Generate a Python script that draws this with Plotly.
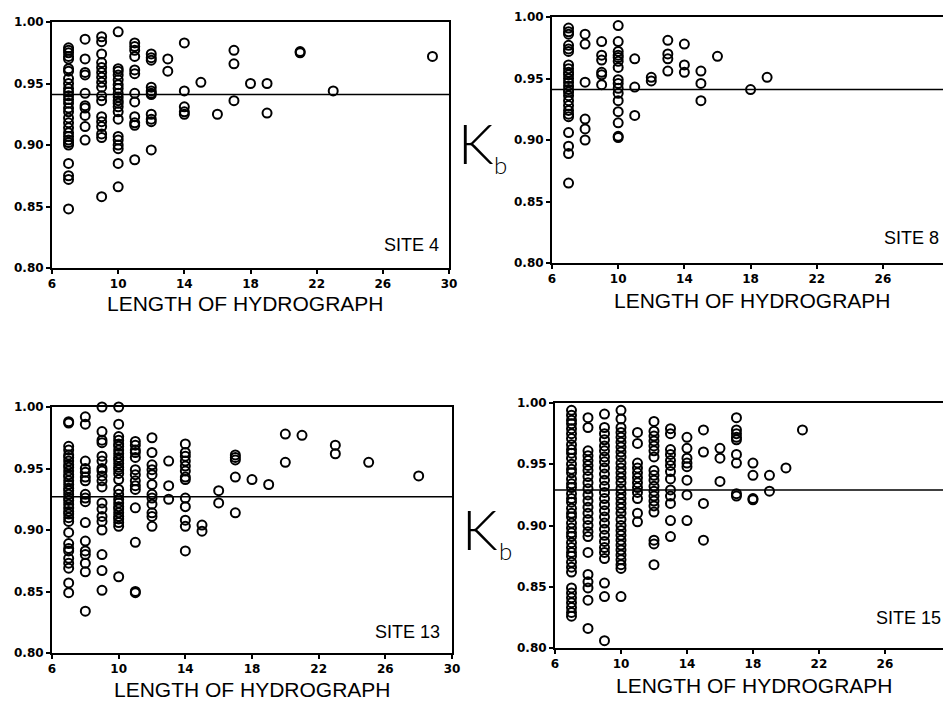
import plotly.graph_objects as go

# ---- data (length of hydrograph -> list of Kb values) ----
site4_kb = {
    7: [0.979, 0.977, 0.975, 0.972, 0.970, 0.962, 0.960, 0.954, 0.950, 0.946, 0.943, 0.940,
        0.937, 0.934, 0.930, 0.927, 0.922, 0.918, 0.914, 0.910, 0.907, 0.904, 0.902, 0.900,
        0.885, 0.875, 0.872, 0.848],
    8: [0.986, 0.970, 0.959, 0.957, 0.942, 0.932, 0.930, 0.924, 0.915, 0.904],
    9: [0.988, 0.984, 0.974, 0.967, 0.963, 0.959, 0.955, 0.951, 0.947, 0.940, 0.936, 0.923,
        0.919, 0.915, 0.909, 0.906, 0.858],
    10: [0.992, 0.962, 0.960, 0.957, 0.953, 0.949, 0.946, 0.942, 0.939, 0.936, 0.934, 0.931,
         0.927, 0.921, 0.907, 0.904, 0.900, 0.897, 0.885, 0.866],
    11: [0.983, 0.980, 0.977, 0.972, 0.961, 0.958, 0.942, 0.935, 0.923, 0.918, 0.916, 0.888],
    12: [0.974, 0.971, 0.969, 0.947, 0.944, 0.942, 0.941, 0.925, 0.921, 0.919, 0.896],
    13: [0.970, 0.960],
    14: [0.983, 0.944, 0.931, 0.927, 0.925],
    15: [0.951],
    16: [0.925],
    17: [0.977, 0.966, 0.936],
    18: [0.950],
    19: [0.950, 0.926],
    21: [0.976, 0.975],
    23: [0.944],
    29: [0.972],
}
site4_mean = 0.941

site8_kb = {
    7: [0.991, 0.988, 0.986, 0.977, 0.974, 0.972, 0.961, 0.958, 0.955, 0.953, 0.950, 0.947,
        0.944, 0.941, 0.939, 0.936, 0.932, 0.928, 0.924, 0.921, 0.919, 0.906, 0.895, 0.889,
        0.865],
    8: [0.986, 0.978, 0.947, 0.917, 0.909, 0.900],
    9: [0.980, 0.969, 0.965, 0.955, 0.953, 0.945],
    10: [0.993, 0.980, 0.972, 0.969, 0.967, 0.964, 0.959, 0.949, 0.946, 0.942, 0.938, 0.932,
         0.923, 0.914, 0.903, 0.902],
    11: [0.966, 0.943, 0.920],
    12: [0.951, 0.948],
    13: [0.981, 0.970, 0.966, 0.956],
    14: [0.978, 0.961, 0.955],
    15: [0.956, 0.946, 0.932],
    16: [0.968],
    18: [0.941],
    19: [0.951],
}
site8_mean = 0.941

site13_kb = {
    7: [0.988, 0.987, 0.968, 0.965, 0.961, 0.959, 0.956, 0.953, 0.951, 0.948, 0.945, 0.943,
        0.940, 0.937, 0.934, 0.932, 0.929, 0.926, 0.924, 0.921, 0.918, 0.915, 0.913, 0.910,
        0.907, 0.898, 0.889, 0.885, 0.883, 0.877, 0.873, 0.869, 0.857, 0.849],
    8: [0.992, 0.986, 0.956, 0.950, 0.947, 0.943, 0.940, 0.929, 0.926, 0.923, 0.906, 0.891,
        0.883, 0.880, 0.873, 0.866, 0.834],
    9: [1.000, 0.980, 0.973, 0.971, 0.960, 0.956, 0.950, 0.948, 0.944, 0.940, 0.935, 0.922,
        0.917, 0.911, 0.907, 0.900, 0.880, 0.867, 0.851],
    10: [1.000, 0.986, 0.976, 0.973, 0.970, 0.968, 0.965, 0.962, 0.959, 0.957, 0.954, 0.951,
         0.949, 0.946, 0.941, 0.933, 0.929, 0.925, 0.922, 0.919, 0.917, 0.914, 0.911, 0.909,
         0.906, 0.903, 0.862],
    11: [0.972, 0.969, 0.965, 0.963, 0.959, 0.949, 0.945, 0.940, 0.936, 0.933, 0.918, 0.890,
         0.850, 0.849],
    12: [0.975, 0.963, 0.953, 0.949, 0.945, 0.937, 0.929, 0.926, 0.921, 0.914, 0.911, 0.903],
    13: [0.956, 0.936, 0.925],
    14: [0.970, 0.963, 0.960, 0.956, 0.952, 0.948, 0.943, 0.941, 0.926, 0.919, 0.908, 0.903,
         0.883],
    15: [0.904, 0.899],
    16: [0.932, 0.922],
    17: [0.961, 0.959, 0.957, 0.943, 0.914],
    18: [0.941],
    19: [0.937],
    20: [0.978, 0.955],
    21: [0.977],
    23: [0.969, 0.962],
    25: [0.955],
    28: [0.944],
}
site13_mean = 0.927

site15_kb = {
    7: [0.994, 0.990, 0.986, 0.983, 0.979, 0.975, 0.971, 0.966, 0.962, 0.959, 0.955, 0.950,
        0.946, 0.943, 0.938, 0.934, 0.931, 0.926, 0.922, 0.919, 0.914, 0.910, 0.907, 0.902,
        0.898, 0.894, 0.891, 0.886, 0.882, 0.878, 0.875, 0.870, 0.866, 0.862, 0.849, 0.845,
        0.841, 0.837, 0.833, 0.829, 0.826],
    8: [0.988, 0.980, 0.961, 0.957, 0.953, 0.949, 0.945, 0.940, 0.935, 0.930, 0.925, 0.920,
        0.915, 0.910, 0.905, 0.900, 0.895, 0.891, 0.878, 0.860, 0.854, 0.849, 0.839, 0.816],
    9: [0.991, 0.980, 0.975, 0.970, 0.965, 0.961, 0.956, 0.952, 0.947, 0.942, 0.937, 0.932,
        0.927, 0.922, 0.917, 0.912, 0.907, 0.902, 0.897, 0.892, 0.887, 0.882, 0.878, 0.873,
        0.853, 0.842, 0.806],
    10: [0.994, 0.987, 0.980, 0.976, 0.972, 0.968, 0.964, 0.960, 0.956, 0.951, 0.947, 0.943,
         0.939, 0.935, 0.930, 0.926, 0.922, 0.918, 0.914, 0.910, 0.905, 0.900, 0.896, 0.892,
         0.888, 0.884, 0.880, 0.876, 0.872, 0.868, 0.865, 0.842],
    11: [0.976, 0.967, 0.951, 0.947, 0.943, 0.939, 0.935, 0.931, 0.927, 0.922, 0.910, 0.903],
    12: [0.985, 0.977, 0.973, 0.969, 0.965, 0.961, 0.956, 0.945, 0.941, 0.937, 0.932, 0.928,
         0.924, 0.920, 0.916, 0.911, 0.888, 0.885, 0.868],
    13: [0.979, 0.975, 0.962, 0.958, 0.953, 0.949, 0.944, 0.938, 0.929, 0.924, 0.918, 0.904,
         0.891],
    14: [0.972, 0.963, 0.955, 0.951, 0.948, 0.937, 0.925, 0.904],
    15: [0.978, 0.960, 0.918, 0.888],
    16: [0.963, 0.955, 0.936],
    17: [0.988, 0.978, 0.975, 0.972, 0.970, 0.958, 0.951, 0.926, 0.924],
    18: [0.951, 0.941, 0.922, 0.921],
    19: [0.941, 0.928],
    20: [0.947],
    21: [0.978],
}
site15_mean = 0.929

site_labels = ["SITE 4", "SITE 8", "SITE 13", "SITE 15"]
x_ticks = [6, 10, 14, 18, 22, 26, 30]
y_ticks = [0.80, 0.85, 0.90, 0.95, 1.00]
y_tick_text = ["0.80", "0.85", "0.90", "0.95", "1.00"]
x_title = "LENGTH OF HYDROGRAPH"


def expand(cols):
    xs, ys = [], []
    for k, vals in cols.items():
        xs += [k] * len(vals)
        ys += vals
    return xs, ys


W, H = 943, 702
fig = go.Figure()

panels = [
    # data, mean, x-range, x-domain px, y-domain px (top,bottom), right frame
    (site4_kb, site4_mean, [6, 30], (52, 449), (22, 268), True),
    (site8_kb, site8_mean, [6, 29.63], (552, 943), (17, 263), False),
    (site13_kb, site13_mean, [6, 30], (52, 452), (407, 653), True),
    (site15_kb, site15_mean, [6, 29.52], (555, 943), (403, 648), False),
]

layout = dict(width=W, height=H, margin=dict(l=0, r=0, t=0, b=0, pad=0, autoexpand=False),
              paper_bgcolor="white", plot_bgcolor="white", showlegend=False)

tickfont = dict(family="DejaVu Sans, Liberation Sans, sans-serif", size=12, color="black",
                weight="bold")

for i, (data, mean, xr, xd, yd, right) in enumerate(panels):
    n = "" if i == 0 else str(i + 1)
    xs, ys = expand(data)
    fig.add_trace(go.Scatter(
        x=xs, y=ys, mode="markers", xaxis="x" + n, yaxis="y" + n, cliponaxis=False,
        marker=dict(symbol="circle-open", size=9, color="black", line=dict(width=2, color="black"))))
    fig.add_trace(go.Scatter(
        x=[6, 30], y=[mean, mean], mode="lines", xaxis="x" + n, yaxis="y" + n,
        line=dict(color="black", width=1.5)))
    layout["xaxis" + n] = dict(
        domain=[xd[0] / W, min(xd[1] / W, 1.0)], range=xr, anchor="y" + n, automargin=False,
        tickvals=x_ticks, ticktext=[str(t) for t in x_ticks], ticks="outside", ticklen=4,
        tickwidth=2, tickcolor="black", showline=True, linewidth=2, linecolor="black",
        mirror=True, showgrid=False, zeroline=False, tickfont=tickfont)
    layout["yaxis" + n] = dict(
        domain=[1 - yd[1] / H, 1 - yd[0] / H], range=[0.80, 1.00], anchor="x" + n,
        automargin=False,
        tickvals=y_ticks, ticktext=y_tick_text, ticks="outside", ticklen=4, tickwidth=2,
        tickcolor="black", showline=True, linewidth=2, linecolor="black",
        mirror=right, showgrid=False, zeroline=False, tickfont=tickfont)

fig.update_layout(**layout)

title_font = dict(family="Liberation Sans, Arial, sans-serif", size=21, color="black")
site_font = dict(family="Liberation Sans, Arial, sans-serif", size=18, color="black")
ann = []
# x titles (centre x, centre y in px)
for cx, cy in [(245, 303), (752, 300), (252, 689), (754, 685)]:
    ann.append(dict(text=x_title, x=cx / W, y=1 - cy / H, xref="paper", yref="paper",
                    showarrow=False, font=title_font, xanchor="center", yanchor="middle"))
# site labels (right edge x, centre y)
for lab, (rx, cy) in zip(site_labels, [(441, 245), (941, 238), (442, 632), (943, 618)]):
    ann.append(dict(text=lab, x=rx / W, y=1 - cy / H, xref="paper", yref="paper",
                    showarrow=False, font=site_font, xanchor="right", yanchor="middle"))
# K_b axis labels
k_font = dict(family="Lato, Liberation Sans, sans-serif", size=56, color="black", weight=300)
b_font = dict(family="Lato, Liberation Sans, sans-serif", size=24, color="black", weight=300)
for (kx, ky), (bx, by) in [((476, 142), (501, 164)), ((480, 528), (505, 550))]:
    ann.append(dict(text="K", x=kx / W, y=1 - ky / H, xref="paper", yref="paper",
                    showarrow=False, font=k_font, xanchor="center", yanchor="middle"))
    ann.append(dict(text="b", x=bx / W, y=1 - by / H, xref="paper", yref="paper",
                    showarrow=False, font=b_font, xanchor="center", yanchor="middle"))
fig.update_layout(annotations=ann)

# remove the page's default body margin so the 943x702 figure fills the window exactly
post = ("document.documentElement.style.margin='0';document.documentElement.style.padding='0';"
        "document.body.style.margin='0';document.body.style.padding='0';"
        "document.body.style.overflow='hidden';document.documentElement.style.overflow='hidden';")
fig.write_html("out.html", post_script=post, config={"displayModeBar": False})
